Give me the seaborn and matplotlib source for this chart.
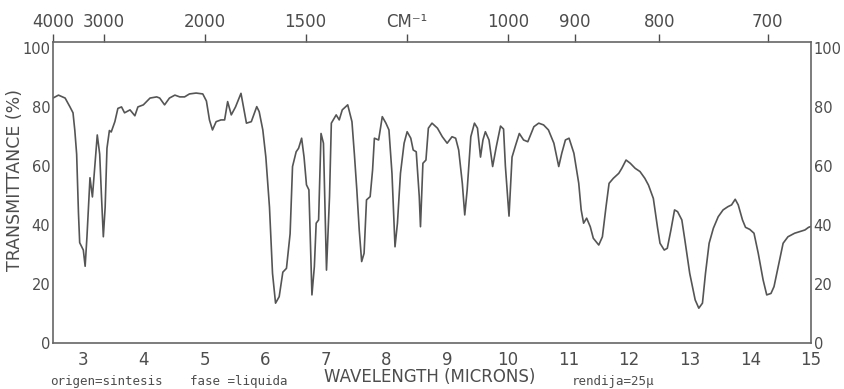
import numpy as np
import pandas as pd
import matplotlib
matplotlib.use("Agg")
import matplotlib.pyplot as plt
import seaborn as sns

# Wavelength (microns) and transmittance (%)
wavelength = [2.50, 2.59, 2.70, 2.78, 2.83, 2.86, 2.89, 2.92, 2.94, 3.00, 3.03, 3.06, 3.11, 3.15,
              3.19, 3.23, 3.27, 3.30, 3.33, 3.36, 3.39, 3.43, 3.46, 3.52, 3.57, 3.63, 3.68, 3.77,
              3.85, 3.90, 3.99, 4.10, 4.21, 4.26, 4.34, 4.42, 4.51, 4.59, 4.67, 4.75, 4.86, 4.97,
              5.03, 5.08, 5.13, 5.19, 5.27, 5.33, 5.38, 5.44, 5.51, 5.60, 5.69, 5.77, 5.86, 5.90,
              5.96, 6.01, 6.07, 6.12, 6.17, 6.23, 6.29, 6.35, 6.41, 6.45, 6.51, 6.55, 6.60, 6.64,
              6.68, 6.72, 6.77, 6.81, 6.84, 6.88, 6.92, 6.96, 7.01, 7.06, 7.09, 7.17, 7.22, 7.27,
              7.36, 7.43, 7.47, 7.51, 7.55, 7.59, 7.63, 7.67, 7.73, 7.77, 7.80, 7.87, 7.93, 7.99,
              8.04, 8.09, 8.14, 8.18, 8.23, 8.29, 8.34, 8.40, 8.44, 8.49, 8.54, 8.56, 8.60, 8.65,
              8.69, 8.75, 8.84, 8.92, 9.00, 9.08, 9.14, 9.19, 9.25, 9.29, 9.33, 9.39, 9.45, 9.50,
              9.55, 9.59, 9.63, 9.69, 9.75, 9.81, 9.88, 9.93, 9.96, 10.02, 10.07, 10.13, 10.19,
              10.26, 10.33, 10.43, 10.51, 10.59, 10.67, 10.76, 10.84, 10.89, 10.95, 11.01, 11.09,
              11.17, 11.21, 11.25, 11.30, 11.36, 11.41, 11.50, 11.56, 11.62, 11.67, 11.74, 11.83,
              11.88, 11.95, 12.02, 12.10, 12.18, 12.26, 12.32, 12.40, 12.47, 12.51, 12.58, 12.63,
              12.69, 12.75, 12.80, 12.87, 12.92, 13.00, 13.09, 13.15, 13.21, 13.26, 13.32, 13.39,
              13.47, 13.55, 13.63, 13.69, 13.75, 13.80, 13.87, 13.92, 13.99, 14.06, 14.13, 14.21,
              14.27, 14.34, 14.39, 14.46, 14.54, 14.62, 14.73, 14.81, 14.90, 14.96, 15.00]

transmittance = [83, 84, 83, 80, 78, 72, 64, 44, 34, 31.5, 26, 36, 56, 49.5,
                 60, 70.5, 64, 49.5, 36, 46, 66, 72, 71.5, 75, 79.5, 80, 78, 79,
                 77, 80, 80.7, 83, 83.4, 83, 80.7, 83, 84, 83.4, 83.4, 84.4, 84.7, 84.4,
                 82, 75.6, 72.2, 75, 75.6, 75.6, 81.8, 77.3, 80, 84.6, 74.5, 75, 80.1, 78.4,
                 72.2, 63, 46, 23.6, 13.5, 15.7, 24, 25.3, 37, 59.8, 64.8, 66, 69.4, 63,
                 53.6, 51.9, 16.3, 25.9, 40.6, 41.7, 71, 67.7, 24.7, 49.6, 74.5, 77.3, 75.6, 79,
                 80.7, 75, 64, 52, 38.3, 27.6, 30.4, 48.5, 49.6, 58.6, 69.4, 68.8, 76.7, 74.5,
                 72.2, 57.5, 32.6, 40.6, 57.5, 67.7, 71.6, 69.4, 65.4, 64.8, 49.6, 39.4, 60.9, 62,
                 72.8, 74.5, 72.8, 69.9, 67.7, 69.9, 69.4, 65.4, 54.1, 43.4, 51.9, 69.9, 74.5, 72.8,
                 63, 68.8, 71.6, 68.8, 59.8, 66.5, 73.5, 72.5, 60, 43, 63, 67.1, 71,
                 68.8, 68.2, 73.3, 74.5, 73.9, 72.2, 67.7, 59.8, 64.3, 68.8, 69.4, 64.3,
                 54.1, 45.1, 40.6, 42.3, 39.4, 35.5, 33.2, 36, 46.2, 54.1, 55.8, 57.5,
                 59.2, 62, 60.9, 59.2, 58.1, 55.8, 53.5, 49, 39, 33.8, 31.5, 32.1,
                 38.3, 45.1, 44.5, 41.7, 34.9, 23.6, 14.6, 11.8, 13.5, 23.6, 33.8, 38.9,
                 42.8, 45.1, 46.2, 46.8, 48.7, 46.8, 41.7, 39.2, 38.5, 37.2, 30.4, 21.4,
                 16.3, 16.8, 19.1, 25.9, 33.8, 36, 37.2, 37.7, 38.3, 39.2, 39.5]

micron_ticks = [3, 4, 5, 6, 7, 8, 9, 10, 11, 12, 13, 14, 15]
percent_ticks = [0, 20, 40, 60, 80, 100]
wavenumber_ticks = [4000, 3000, 2000, 1500, 1200, 1000, 900, 800, 700]
wavenumber_labels = ["4000", "3000", "2000", "1500", "CM\u207b\u00b9", "1000", "900", "800", "700"]

sns.set_theme(style="white")
plt.rcParams["font.family"] = ["DejaVu Sans"]
ink = "#4d4d4d"

df = pd.DataFrame({"wavelength": wavelength, "transmittance": transmittance})

fig = plt.figure(figsize=(8.44, 3.89), dpi=100)
ax = fig.add_axes([53 / 844, 1 - 343 / 389, (811 - 53) / 844, (343 - 42) / 389])

sns.lineplot(data=df, x="wavelength", y="transmittance", ax=ax, sort=False,
             color="#555555", linewidth=1.2)

ax.set_xlim(2.5, 15)
ax.set_ylim(0, 102)
ax.set_xticks(micron_ticks)
ax.set_xticklabels([str(t) for t in micron_ticks])
ax.set_yticks(percent_ticks)
ax.set_yticklabels([str(t) for t in percent_ticks])
ax.tick_params(axis="x", length=0, pad=6, labelsize=12, colors=ink)
ax.tick_params(axis="y", length=0, pad=2, labelsize=10.5, colors=ink,
               left=False, right=False, labelleft=True, labelright=True)
for side in ["left", "right", "top", "bottom"]:
    ax.spines[side].set_visible(True)
    ax.spines[side].set_color("#666666")
    ax.spines[side].set_linewidth(1.2)

ax.set_xlabel("")
ax.set_ylabel("")
fig.text(15 / 844, 1 - 180 / 389, "TRANSMITTANCE (%)", rotation=90, ha="center", va="center",
         fontsize=12.5, color=ink)

sec = ax.secondary_xaxis("top", functions=(lambda x: 1e4 / x, lambda x: 1e4 / x))
sec.set_xticks(wavenumber_ticks)
sec.set_xticklabels(wavenumber_labels)
sec.tick_params(axis="x", direction="out", length=6, width=1, colors=ink, labelsize=12, pad=2)
sec.spines["top"].set_visible(False)

fig.text(430 / 844, 1 - 377 / 389, "WAVELENGTH (MICRONS)", ha="center", va="center",
         fontsize=12, color=ink)
mono = ["DejaVu Sans Mono"]
fig.text(50 / 844, 1 - 382 / 389, "origen=sintesis", ha="left", va="center",
         fontsize=9, color=ink, family=mono)
fig.text(190 / 844, 1 - 382 / 389, "fase =liquida", ha="left", va="center",
         fontsize=9, color=ink, family=mono)
fig.text(572 / 844, 1 - 382 / 389, "rendija=25\u00b5", ha="left", va="center",
         fontsize=9, color=ink, family=mono)

fig.savefig("out.png", dpi=100, facecolor="white")
